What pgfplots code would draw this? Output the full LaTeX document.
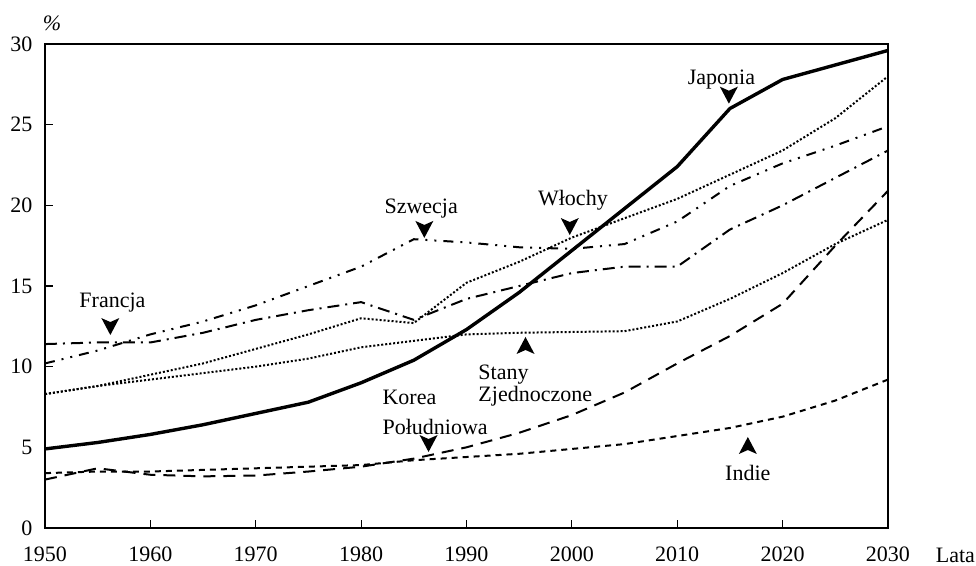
\documentclass[border=0pt]{standalone}
\usepackage{fontspec}
\setmainfont{Liberation Serif}
\usepackage{pgfplots}
\pgfplotsset{compat=1.18}

% down / up pointer for the labels
\newcommand{\pdown}[2]{\fill (axis cs:#1,#2) -- ++(-4.5pt,8.5pt) -- ++(4.5pt,-2pt) -- ++(4.5pt,2pt) -- cycle;}
\newcommand{\pup}[2]{\fill (axis cs:#1,#2) -- ++(-4.5pt,-8.5pt) -- ++(4.5pt,2pt) -- ++(4.5pt,-2pt) -- cycle;}

\begin{document}
\fontsize{11}{13}\selectfont
\begin{tikzpicture}
\useasboundingbox (-22.5pt,-19pt) rectangle (465.5pt,264pt);
\begin{axis}[
    scale only axis,
    width=421.5pt, height=242pt,
    xmin=1950, xmax=2030, ymin=0, ymax=30,
    xtick={1950,1960,...,2030},
    ytick={0,5,...,30},
    tick pos=left,
    tick align=inside,
    major tick length=4pt,
    /pgf/number format/1000 sep={},
    /pgf/number format/assume math mode=true,
    xticklabel style={yshift=-5.5pt},
    yticklabel style={xshift=-2.5pt},
    axis line style={line width=0.6pt},
    tick style={black, line width=0.6pt},
    clip=false,
]

% Japonia
\addplot[black, line width=1.7pt] coordinates {
 (1950,4.9) (1955,5.3) (1960,5.8) (1965,6.4) (1970,7.1) (1975,7.8) (1980,9.0)
 (1985,10.4) (1990,12.3) (1995,14.6) (2000,17.2) (2005,19.8) (2010,22.4)
 (2015,26.0) (2020,27.8) (2025,28.7) (2030,29.6)};

% Szwecja
\addplot[black, line width=1pt, dash pattern=on 5pt off 3.5pt on 1pt off 3.5pt on 1pt off 3.5pt] coordinates {
 (1950,10.2) (1955,11.0) (1960,12.0) (1965,12.8) (1970,13.8) (1975,15.0) (1980,16.2)
 (1985,17.9) (1990,17.7) (1995,17.4) (2000,17.3) (2005,17.6) (2010,19.0)
 (2015,21.2) (2020,22.6) (2025,23.7) (2030,24.9)};

% Francja
\addplot[black, line width=1pt, dash pattern=on 6pt off 3pt on 1pt off 3pt] coordinates {
 (1950,11.4) (1955,11.5) (1960,11.5) (1965,12.1) (1970,12.9) (1975,13.5) (1980,14.0)
 (1985,12.9) (1990,14.2) (1995,15.0) (2000,15.8) (2005,16.2) (2010,16.2)
 (2015,18.5) (2020,20.0) (2025,21.7) (2030,23.4)};

% Wlochy
\addplot[black, line width=1pt, dash pattern=on 1pt off 1pt] coordinates {
 (1950,8.3) (1955,8.8) (1960,9.5) (1965,10.2) (1970,11.1) (1975,12.0) (1980,13.0)
 (1985,12.7) (1990,15.2) (1995,16.5) (2000,18.0) (2005,19.2) (2010,20.4)
 (2015,21.9) (2020,23.4) (2025,25.4) (2030,28.0)};

% Stany Zjednoczone
\addplot[black, line width=1pt, dash pattern=on 1pt off 1pt] coordinates {
 (1950,8.3) (1955,8.8) (1960,9.2) (1965,9.6) (1970,10.0) (1975,10.5) (1980,11.2)
 (1985,11.6) (1990,12.0) (1995,12.1) (2000,12.15) (2005,12.2) (2010,12.8)
 (2015,14.2) (2020,15.8) (2025,17.6) (2030,19.1)};

% Korea Poludniowa
\addplot[black, line width=1pt, dash pattern=on 6pt off 4pt] coordinates {
 (1950,3.0) (1955,3.7) (1960,3.3) (1965,3.2) (1970,3.25) (1975,3.5) (1980,3.8)
 (1985,4.3) (1990,5.0) (1995,5.9) (2000,7.0) (2005,8.4) (2010,10.2)
 (2015,11.9) (2020,13.9) (2025,17.5) (2030,20.9)};

% Indie
\addplot[black, line width=1pt, dash pattern=on 3pt off 2.5pt] coordinates {
 (1950,3.4) (1955,3.5) (1960,3.5) (1965,3.6) (1970,3.7) (1975,3.8) (1980,3.9)
 (1985,4.2) (1990,4.4) (1995,4.6) (2000,4.9) (2005,5.2) (2010,5.7)
 (2015,6.2) (2020,6.9) (2025,7.9) (2030,9.2)};

% labels and pointers
\node at (axis cs:1956.4,13.95) {Francja};
\pdown{1956.2}{11.96}
\node at (axis cs:1985.7,19.83) {Szwecja};
\pdown{1986.0}{17.98}
\node at (axis cs:2000.1,20.33) {Włochy};
\pdown{1999.8}{18.16}
\node at (axis cs:2014.2,27.8) {Japonia};
\pdown{2014.9}{26.3}
\node[anchor=north west, align=left, inner sep=0pt] at (axis cs:1991.1,10.15) {Stany\\[-2pt]Zjednoczone};
\pup{1995.6}{11.84}
\node[anchor=north west, align=left, inner sep=0pt] at (axis cs:1982.0,8.6) {Korea\\[2pt]Południowa};
\pdown{1986.4}{4.71}
\node at (axis cs:2016.7,3.41) {Indie};
\pup{2016.7}{5.64}
\node at (axis cs:1950.66,31.3) {\itshape\%};
\node at (axis cs:2036.4,-1.7) {Lata};
\end{axis}
\end{tikzpicture}
\end{document}
